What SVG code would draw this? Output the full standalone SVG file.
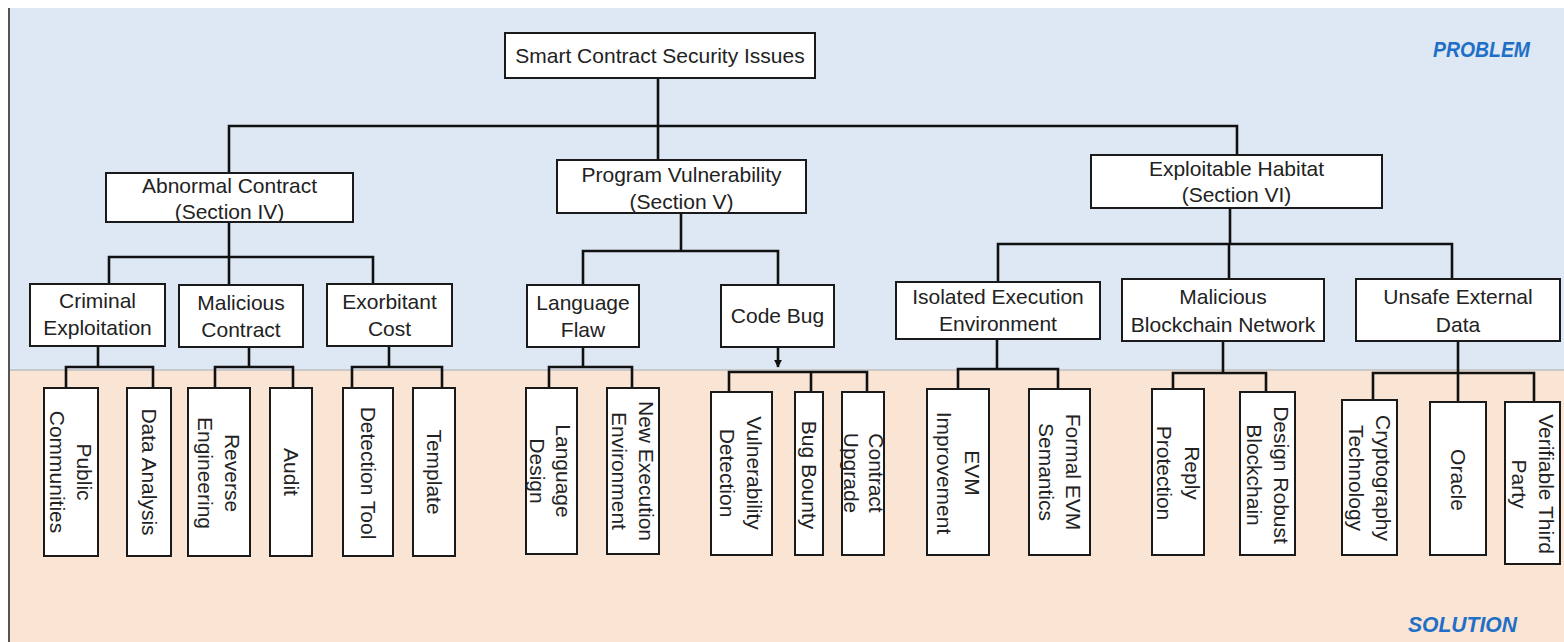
<svg xmlns="http://www.w3.org/2000/svg" width="1564" height="642" viewBox="0 0 1564 642">
<defs>
<style>
.box{fill:#ffffff;stroke:#1a1a1a;stroke-width:2}
.conn path{fill:none;stroke:#111;stroke-width:2.6}
.t{font-family:"Liberation Sans",Arial,sans-serif;font-size:21px;fill:#222;text-anchor:middle}
.lab{font-family:"Liberation Sans",Arial,sans-serif;font-weight:bold;font-style:italic;font-size:22px;fill:#1f6fc8}
</style>
<marker id="arr" viewBox="0 0 10 10" refX="9" refY="5" markerWidth="3" markerHeight="3" orient="auto">
<path d="M0,0 L10,5 L0,10 z" fill="#111"/>
</marker>
</defs>
<rect x="0" y="0" width="1564" height="642" fill="#ffffff"/>
<rect x="9" y="8" width="1555" height="362" fill="#dde8f4"/>
<rect x="9" y="370" width="1555" height="272" fill="#fae4d4"/>
<line x1="9" y1="370" x2="1564" y2="370" stroke="#c9c9c9" stroke-width="2"/>
<line x1="9" y1="8" x2="9" y2="642" stroke="#555" stroke-width="2"/>
<text class="lab" x="1433" y="57" textLength="97" lengthAdjust="spacingAndGlyphs">PROBLEM</text>
<text class="lab" x="1408" y="632" textLength="109" lengthAdjust="spacingAndGlyphs">SOLUTION</text>

<g id="connectors" class="conn">
<path d="M658,78 V160"/>
<path d="M229,173 V126 H1237 V155"/>
<path d="M229,222 V257"/>
<path d="M109,284 V257 H373 V284"/>
<path d="M229,257 V285"/>
<path d="M681,213 V251"/>
<path d="M583,285 V251 H778 V285"/>
<path d="M1230,208 V244"/>
<path d="M998,282 V244 H1452 V279"/>
<path d="M1229,244 V279"/>
<path d="M98,346 V367"/>
<path d="M66,388 V367 H153 V388"/>
<path d="M249,347 V367"/>
<path d="M215,388 V367 H293 V388"/>
<path d="M389,346 V367"/>
<path d="M352,388 V367 H442 V388"/>
<path d="M583,347 V367"/>
<path d="M549,388 V367 H632 V388"/>
<path d="M778,347 V367" marker-end="url(#arr)"/>
<path d="M729,392 V372 H867 V392"/>
<path d="M811,372 V392"/>
<path d="M997,339 V369"/>
<path d="M958,389 V369 H1058 V389"/>
<path d="M1223,341 V373"/>
<path d="M1173,389 V373 H1266 V392"/>
<path d="M1458,341 V402"/>
<path d="M1373,400 V373 H1534 V402"/>
</g>

<g id="root"><rect class="box" x="505" y="33" width="310" height="45"/><text class="t" x="660" y="63">Smart Contract Security Issues</text></g>
<g id="abnormal"><rect class="box" x="106" y="173" width="247" height="49"/><text class="t" x="229.5" y="193">Abnormal Contract</text><text class="t" x="229.5" y="219">(Section IV)</text></g>
<g id="program"><rect class="box" x="557" y="160" width="249" height="53"/><text class="t" x="681.5" y="182">Program Vulnerability</text><text class="t" x="681.5" y="209">(Section V)</text></g>
<g id="habitat"><rect class="box" x="1091" y="155" width="291" height="53"/><text class="t" x="1236.5" y="176">Exploitable Habitat</text><text class="t" x="1236.5" y="202">(Section VI)</text></g>

<g id="criminal"><rect class="box" x="30" y="284" width="135" height="62"/><text class="t" x="97.5" y="308">Criminal</text><text class="t" x="97.5" y="335">Exploitation</text></g>
<g id="malicious"><rect class="box" x="179" y="285" width="124" height="62"/><text class="t" x="241" y="310">Malicious</text><text class="t" x="241" y="337">Contract</text></g>
<g id="exorbitant"><rect class="box" x="327" y="284" width="125" height="62"/><text class="t" x="389.5" y="309">Exorbitant</text><text class="t" x="389.5" y="336">Cost</text></g>
<g id="langflaw"><rect class="box" x="527" y="285" width="112" height="62"/><text class="t" x="583" y="310">Language</text><text class="t" x="583" y="337">Flaw</text></g>
<g id="codebug"><rect class="box" x="721" y="285" width="113" height="62"/><text class="t" x="777.5" y="323">Code Bug</text></g>
<g id="isolated"><rect class="box" x="896" y="282" width="204" height="57"/><text class="t" x="998" y="304">Isolated Execution</text><text class="t" x="998" y="331">Environment</text></g>
<g id="malnet"><rect class="box" x="1122" y="279" width="202" height="62"/><text class="t" x="1223" y="304">Malicious</text><text class="t" x="1223" y="332">Blockchain Network</text></g>
<g id="unsafe"><rect class="box" x="1356" y="279" width="204" height="62"/><text class="t" x="1458" y="304">Unsafe External</text><text class="t" x="1458" y="332">Data</text></g>

<g id="public"><rect class="box" x="44" y="388" width="54" height="168"/><text class="t" transform="translate(71,472) rotate(90)"><tspan x="0" y="-6">Public</tspan><tspan x="0" y="21">Communities</tspan></text></g>
<g id="data"><rect class="box" x="127" y="388" width="44" height="168"/><text class="t" transform="translate(149,472) rotate(90)" y="7.5">Data Analysis</text></g>
<g id="reverse"><rect class="box" x="188" y="388" width="62" height="168"/><text class="t" transform="translate(219,473) rotate(90)"><tspan x="0" y="-6">Reverse</tspan><tspan x="0" y="21">Engineering</tspan></text></g>
<g id="audit"><rect class="box" x="270" y="388" width="42" height="168"/><text class="t" transform="translate(291,472) rotate(90)" y="7.5">Audit</text></g>
<g id="detection"><rect class="box" x="343" y="388" width="50" height="168"/><text class="t" transform="translate(368,473) rotate(90)" y="7.5">Detection Tool</text></g>
<g id="template"><rect class="box" x="413" y="388" width="42" height="168"/><text class="t" transform="translate(434,472) rotate(90)" y="7.5">Template</text></g>
<g id="langdesign"><rect class="box" x="526" y="388" width="51" height="166"/><text class="t" transform="translate(551,471) rotate(90)"><tspan x="0" y="-5">Language</tspan><tspan x="0" y="21">Design</tspan></text></g>
<g id="newexec"><rect class="box" x="607" y="388" width="52" height="166"/><text class="t" transform="translate(633,471) rotate(90)"><tspan x="0" y="-6">New Execution</tspan><tspan x="0" y="21">Environment</tspan></text></g>
<g id="vulndet"><rect class="box" x="711" y="392" width="61" height="163"/><text class="t" transform="translate(741.5,473) rotate(90)"><tspan x="0" y="-5">Vulnerability</tspan><tspan x="0" y="22">Detection</tspan></text></g>
<g id="bounty"><rect class="box" x="795" y="392" width="28" height="163"/><text class="t" transform="translate(809,475) rotate(90)" y="7.5">Bug Bounty</text></g>
<g id="upgrade"><rect class="box" x="842" y="392" width="42" height="163"/><text class="t" transform="translate(863,473) rotate(90)"><tspan x="0" y="-6">Contract</tspan><tspan x="0" y="19">Upgrade</tspan></text></g>
<g id="evmimp"><rect class="box" x="927" y="389" width="62" height="166"/><text class="t" transform="translate(958,473) rotate(90)"><tspan x="0" y="-7">EVM</tspan><tspan x="0" y="21">Improvement</tspan></text></g>
<g id="formal"><rect class="box" x="1029" y="389" width="61" height="166"/><text class="t" transform="translate(1059.5,472) rotate(90)"><tspan x="0" y="-6">Formal EVM</tspan><tspan x="0" y="21">Semantics</tspan></text></g>
<g id="reply"><rect class="box" x="1152" y="389" width="52" height="166"/><text class="t" transform="translate(1178,473) rotate(90)"><tspan x="0" y="-7">Reply</tspan><tspan x="0" y="21">Protection</tspan></text></g>
<g id="robust"><rect class="box" x="1240" y="392" width="55" height="163"/><text class="t" transform="translate(1267.5,475) rotate(90)"><tspan x="0" y="-6">Design Robust</tspan><tspan x="0" y="21">Blockchain</tspan></text></g>
<g id="crypto"><rect class="box" x="1342" y="400" width="55" height="155"/><text class="t" transform="translate(1369.5,478) rotate(90)"><tspan x="0" y="-6">Cryptography</tspan><tspan x="0" y="21">Technology</tspan></text></g>
<g id="oracle"><rect class="box" x="1430" y="402" width="56" height="153"/><text class="t" transform="translate(1458,480) rotate(90)" y="7.5">Oracle</text></g>
<g id="verifiable"><rect class="box" x="1505" y="402" width="55" height="162"/><text class="t" transform="translate(1532.5,484) rotate(90)"><tspan x="0" y="-6">Verifiable Third</tspan><tspan x="0" y="21">Party</tspan></text></g>
</svg>
